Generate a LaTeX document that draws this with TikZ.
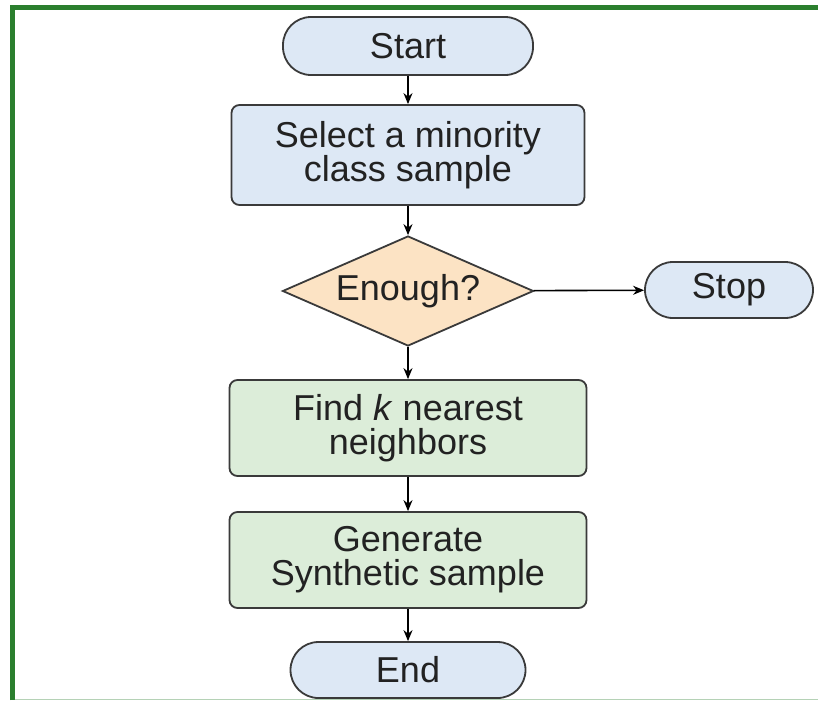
\documentclass[tikz,border=0pt]{standalone}
\usepackage{fontspec}
\setmainfont{Liberation Sans}
\usetikzlibrary{shapes.geometric,arrows.meta}
\definecolor{bluefill}{HTML}{DDE8F5}
\definecolor{greenfill}{HTML}{DCEDD9}
\definecolor{orangefill}{HTML}{FCE3C4}
\definecolor{framegreen}{HTML}{2B7F2E}
\definecolor{outline}{HTML}{3A3A3A}
\definecolor{txt}{HTML}{222222}
\tikzset{
  base/.style={draw=outline, line width=1.8pt, text=txt, inner sep=0pt, align=center,
    font=\fontsize{36}{34}\selectfont},
  pill/.style={base, fill=bluefill, rounded corners=28pt},
  procbox/.style={base, rounded corners=8pt, minimum width=355pt},
  decision/.style={base, shape=diamond, fill=orangefill, aspect=2.28,
    minimum width=251pt, minimum height=110pt},
  flow/.style={draw=black, line width=1.6pt, -{Stealth[length=11pt,width=9pt]}}
}
\begin{document}
\begin{tikzpicture}[x=1pt,y=-1pt]
\useasboundingbox (0,0) rectangle (818,702);
\fill[white] (0,0) rectangle (818,702);
% frame
\draw[framegreen, line width=5pt] (12,700) -- (12,7.5) -- (818,7.5);
\draw[framegreen!35, line width=1pt] (14.5,699.5) -- (818,699.5);

\node[pill, minimum width=250pt, minimum height=58pt] (start) at (408,46) {Start};
\node[procbox, fill=bluefill, minimum width=353pt, minimum height=100pt] (select) at (408,155) {Select a minority\\class sample};
\node[decision] (enough) at (408,291) {Enough?};
\node[pill, minimum width=168pt, minimum height=56pt] (stop) at (729,290) {Stop};
\node[procbox, fill=greenfill, minimum width=357pt, minimum height=96pt] (find) at (408,428) {Find \textit{k} nearest\\neighbors};
\node[procbox, fill=greenfill, minimum width=357pt, minimum height=96pt] (gen) at (408,560) {Generate\\Synthetic sample};
\node[pill, minimum width=235pt, minimum height=56pt] (end) at (408,670) {End};

\draw[flow] (start) -- (select);
\draw[flow] (select) -- (enough);
\draw[flow] (enough) -- (stop);
\draw[flow] (enough) -- (find);
\draw[flow] (find) -- (gen);
\draw[flow] (gen) -- (end);
\end{tikzpicture}
\end{document}
